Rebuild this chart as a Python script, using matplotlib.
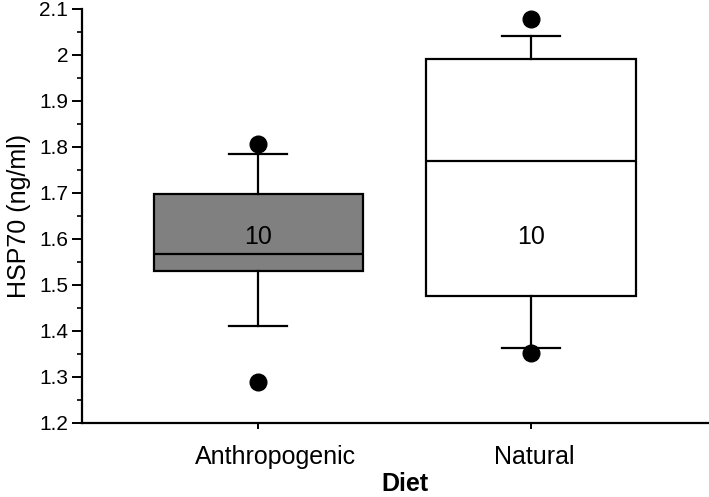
import matplotlib
matplotlib.use("Agg")
import matplotlib.pyplot as plt
import matplotlib.transforms as mtransforms
from matplotlib.ticker import MultipleLocator

# values (HSP70, ng/ml)
diets = ["Anthropogenic", "Natural"]
q1 = [1.531, 1.475]
medians = [1.568, 1.770]
q3 = [1.697, 1.991]
whisker_lo = [1.410, 1.363]
whisker_hi = [1.784, 2.042]
outliers = [[1.806, 1.290], [2.079, 1.353]]
n_samples = [10, 10]
n_label_y = [1.605, 1.605]
box_colors = ["#808080", "white"]

plt.rcParams['font.family'] = ['Liberation Sans', 'DejaVu Sans']

fig = plt.figure(figsize=(7.09, 4.97), dpi=100)
ax = fig.add_axes([0.1157, 0.1489, 0.8843, 0.8330])

stats = []
for i, name in enumerate(diets):
    stats.append({
        'label': name,
        'q1': q1[i], 'med': medians[i], 'q3': q3[i],
        'whislo': whisker_lo[i], 'whishi': whisker_hi[i],
        'fliers': outliers[i],
    })

positions = [1, 2]
bp = ax.bxp(stats, positions=positions, widths=0.766, capwidths=0.214,
            patch_artist=True, showfliers=True,
            boxprops=dict(linewidth=1.6, edgecolor='black'),
            medianprops=dict(color='black', linewidth=1.6),
            whiskerprops=dict(color='black', linewidth=1.6),
            capprops=dict(color='black', linewidth=1.6),
            flierprops=dict(marker='o', markerfacecolor='black',
                            markeredgecolor='black', markersize=12))
for patch, c in zip(bp['boxes'], box_colors):
    patch.set_facecolor(c)

for pos, n, y in zip(positions, n_samples, n_label_y):
    ax.text(pos, y, str(n), ha='center', va='center', fontsize=18)

ax.set_xlim(0.355, 2.652)
ax.set_ylim(1.2, 2.1)
ax.yaxis.set_major_locator(MultipleLocator(0.1))
ax.yaxis.set_minor_locator(MultipleLocator(0.05))
ax.set_yticklabels([f"{v:g}" for v in ax.get_yticks()])
ax.set_xticks(positions)
ax.set_xticklabels(diets)

for side in ['top', 'right']:
    ax.spines[side].set_visible(False)
for side in ['left', 'bottom']:
    ax.spines[side].set_linewidth(1.6)

ax.tick_params(axis='y', which='major', length=7, width=1.4, labelsize=15, pad=3)
ax.tick_params(axis='y', which='minor', length=3.5, width=1.2)
ax.tick_params(axis='x', which='major', length=4, width=1.4, labelsize=18, pad=12)

# the category labels sit a little right of their ticks in the original
for lbl, dx in zip(ax.get_xticklabels(), [17, 3]):
    lbl.set_transform(lbl.get_transform() +
                      mtransforms.ScaledTranslation(dx / 100, 0, fig.dpi_scale_trans))

ax.set_ylabel('HSP70 (ng/ml)', fontsize=18, labelpad=6)
ax.set_xlabel('Diet', fontsize=18, fontweight='bold')
ax.xaxis.set_label_coords(0.515, -0.118)

fig.savefig("out.png", dpi=100)
